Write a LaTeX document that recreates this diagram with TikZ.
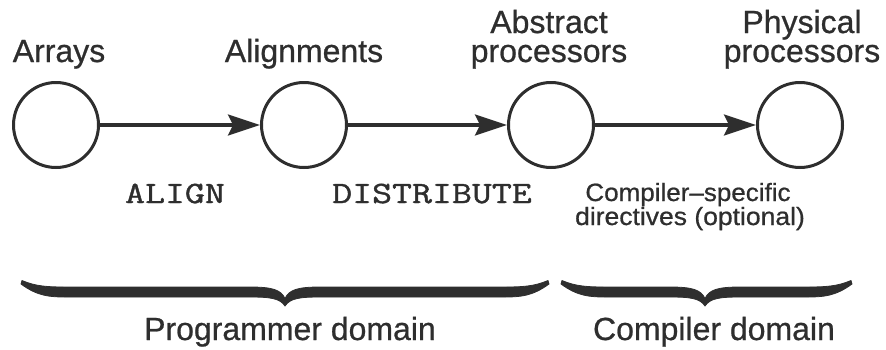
\documentclass[tikz,border=0pt]{standalone}
\usepackage{fontspec}
\setmainfont[FakeBold=0.7]{Liberation Sans}
\newfontfamily\monofnt[FakeBold=1.2]{Latin Modern Mono}
\usetikzlibrary{arrows.meta}
\definecolor{ink}{gray}{0.18}
\newcommand\mybrace[3]{%
  \fill[ink,draw=ink,line width=0.8pt,line join=round]
    (#1,280.5) .. controls ({#1+14},286.5) and ({#1+26},287) .. ({#1+45},287)
    -- ({#2-35},287) .. controls ({#2-12},287) and ({#2-4},290) .. (#2,298.5)
    .. controls ({#2+4},290) and ({#2+12},287) .. ({#2+35},287)
    -- ({#3-45},287) .. controls ({#3-26},287) and ({#3-14},286.5) .. (#3,280.5)
    -- ({#3+1},284) .. controls ({#3-16},296.5) and ({#3-28},297) .. ({#3-45},297)
    -- ({#2+35},297) .. controls ({#2+14},297) and ({#2+5},298.5) .. (#2,306)
    .. controls ({#2-5},298.5) and ({#2-14},297) .. ({#2-35},297)
    -- ({#1+45},297) .. controls ({#1+28},297) and ({#1+16},296.5) .. ({#1-1},284)
    -- cycle;}
\begin{document}
\begin{tikzpicture}[x=1pt,y=-1pt,
  circ/.style={circle,draw=ink,line width=3pt,minimum size=85pt,inner sep=0pt},
  conn/.style={draw=ink,line width=3.2pt,-{Stealth[length=32pt,width=21pt,inset=5pt]}},
  headtxt/.style={text=ink,inner sep=0pt,anchor=base,font=\fontsize{32}{26}\selectfont},
  monotxt/.style={text=ink,inner sep=0pt,anchor=base,font=\fontsize{31}{31}\selectfont\monofnt},
  smalltxt/.style={text=ink,inner sep=0pt,anchor=base,font=\fontsize{25}{21}\selectfont},
  domtxt/.style={text=ink,inner sep=0pt,anchor=base,font=\fontsize{32}{34}\selectfont}]
\useasboundingbox (0,0) rectangle (886,349);
\node[circ] (arr) at (56,125) {};
\node[circ] (ali) at (304,125) {};
\node[circ] (abs) at (551,125) {};
\node[circ] (phy) at (800,125) {};
\draw[conn] (arr) -- (ali);
\draw[conn] (ali) -- (abs);
\draw[conn] (abs) -- (phy);
\node[headtxt] (larr) at (59,62) {Arrays};
\node[headtxt] (lali) at (304,62) {Alignments};
\node[headtxt] (labs1) at (549,33) {Abstract};
\node[headtxt] (labs2) at (549,62) {processors};
\node[headtxt] (lphy1) at (802,33) {Physical};
\node[headtxt] (lphy2) at (802,62) {processors};
\node[monotxt] (align) at (175,203) {\scalebox{1.25}[1]{ALIGN}};
\node[monotxt] (dist) at (432,203) {\scalebox{1.25}[1]{DISTRIBUTE}};
\node[smalltxt] (cs1) at (688,201) {\scalebox{1.04}[1]{Compiler–specific}};
\node[smalltxt] (cs2) at (690,225) {\scalebox{1.06}[1]{directives (optional)}};
\mybrace{22}{285}{548}
\mybrace{562}{705}{851}
\node[domtxt] (pd) at (290,340) {Programmer domain};
\node[domtxt] (cd) at (714,340) {Compiler domain};
\end{tikzpicture}
\end{document}
